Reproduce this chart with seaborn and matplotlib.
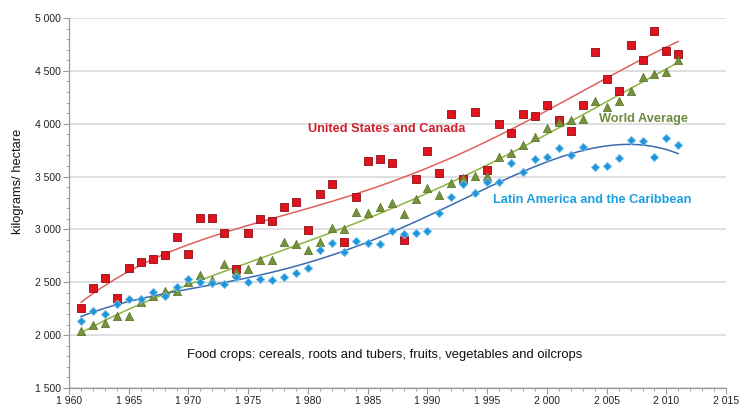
import numpy as np
import pandas as pd
import matplotlib
matplotlib.use("Agg")
import matplotlib.pyplot as plt
from matplotlib.ticker import FuncFormatter, MultipleLocator
import seaborn as sns

years = list(range(1961, 2012))

usa_canada = [2260, 2449, 2541, 2354, 2632, 2695, 2720, 2755, 2925, 2766,
              3105, 3111, 2963, 2623, 2963, 3099, 3077, 3209, 3257, 2995,
              3338, 3427, 2881, 3307, 3644, 3663, 3631, 2900, 3480, 3744,
              3537, 4089, 3480, 4114, 3562, 3997, 3909, 4089, 4073, 4176,
              4038, 3934, 4180, 4681, 4423, 4310, 4741, 4606, 4877, 4685,
              4662]

world_avg = [2040, 2099, 2112, 2178, 2184, 2311, 2370, 2420, 2420, 2506,
             2569, 2525, 2670, 2597, 2623, 2711, 2708, 2884, 2859, 2803,
             2878, 3011, 3001, 3168, 3152, 3215, 3247, 3143, 3288, 3390,
             3326, 3442, 3490, 3508, 3508, 3688, 3720, 3796, 3874, 3957,
             4013, 4038, 4048, 4215, 4155, 4212, 4306, 4438, 4467, 4486,
             4603]

latin_america = [2137, 2231, 2203, 2292, 2345, 2342, 2408, 2373, 2458, 2528,
                 2500, 2490, 2481, 2547, 2500, 2528, 2522, 2547, 2591, 2635,
                 2803, 2869, 2789, 2888, 2875, 2862, 2985, 2954, 2969, 2988,
                 3152, 3310, 3427, 3348, 3452, 3452, 3631, 3546, 3666, 3685,
                 3767, 3707, 3777, 3594, 3597, 3679, 3843, 3833, 3682, 3868,
                 3796]

y_ticks = [1500, 2000, 2500, 3000, 3500, 4000, 4500, 5000]
x_ticks = [1960, 1965, 1970, 1975, 1980, 1985, 1990, 1995, 2000, 2005, 2010, 2015]

series = [
    ("United States and Canada", usa_canada, "s", "#E0141E", "#8B0F14", "#E06060", 26),
    ("World Average", world_avg, "^", "#76923C", "#5E7A2E", "#8DB440", 35),
    ("Latin America and the Caribbean", latin_america, "D", "#1F95DA", "#7CC3EE", "#3A6BB0", 18),
]

sns.set_style("white")
plt.rcParams['font.family'] = ['Liberation Sans', 'DejaVu Sans']

fig = plt.figure(figsize=(7.41, 4.05), dpi=100)
ax = fig.add_axes([0.0931, 0.042, 0.8869, 0.9136])

yrs = np.array(years, dtype=float)
for name, vals, marker, face, edge, trend, size in series:
    df = pd.DataFrame({"year": years, "value": vals})
    coeffs = np.polyfit(yrs - 1986, np.array(vals, dtype=float), 4)
    xs = np.linspace(1961, 2011, 200)
    tdf = pd.DataFrame({"year": xs, "value": np.polyval(coeffs, xs - 1986)})
    sns.lineplot(data=tdf, x="year", y="value", ax=ax, color=trend, lw=1.1, zorder=2)
    sns.scatterplot(data=df, x="year", y="value", ax=ax, marker=marker, s=size,
                    color=face, edgecolor=edge, linewidth=0.6, zorder=3)

ax.set_xlim(1960, 2015)
ax.set_ylim(1500, 5000)
ax.set_xticks(x_ticks)
ax.set_yticks(y_ticks)
ax.xaxis.set_minor_locator(MultipleLocator(1))
ax.yaxis.set_minor_locator(MultipleLocator(100))
fmt = FuncFormatter(lambda v, p: f"{int(round(v)):,}".replace(",", " "))
ax.xaxis.set_major_formatter(fmt)
ax.yaxis.set_major_formatter(fmt)

ax.grid(axis="y", which="major", color="#D9D9D9", lw=1.2, zorder=0)
ax.set_axisbelow(True)
for s in ["top", "right"]:
    ax.spines[s].set_visible(False)
for s in ["left", "bottom"]:
    ax.spines[s].set_color("#9A9A9A")
    ax.spines[s].set_linewidth(0.9)

ax.tick_params(axis="both", which="major", direction="out", length=4, width=0.8,
               color="#9A9A9A", labelsize=7.5, labelcolor="#222222", pad=1.5)
ax.tick_params(axis="both", which="minor", direction="out", length=2.5, width=0.6,
               color="#9A9A9A")
ax.tick_params(axis="x", which="both", bottom=True)
ax.tick_params(axis="y", which="both", left=True)

ax.set_xlabel("")
ax.set_ylabel("kilograms/ hectare", fontsize=9.3, color="#111111")
ax.yaxis.set_label_coords(-0.0686, 0.559)

ax.text(1986.6, 3950, "United States and Canada", color="#D0202E", fontsize=9.2,
        fontweight="bold", ha="center", va="center")
ax.text(2008.1, 4040, "World Average", color="#6E8B3D", fontsize=9.2,
        fontweight="bold", ha="center", va="center")
ax.text(2003.8, 3275, "Latin America and the Caribbean", color="#1BA1E2", fontsize=9.2,
        fontweight="bold", ha="center", va="center")
ax.text(1986.4, 1810, "Food crops: cereals, roots and tubers, fruits, vegetables and oilcrops",
        color="#111111", fontsize=9.4, ha="center", va="center")

fig.savefig("out.png", dpi=100)
